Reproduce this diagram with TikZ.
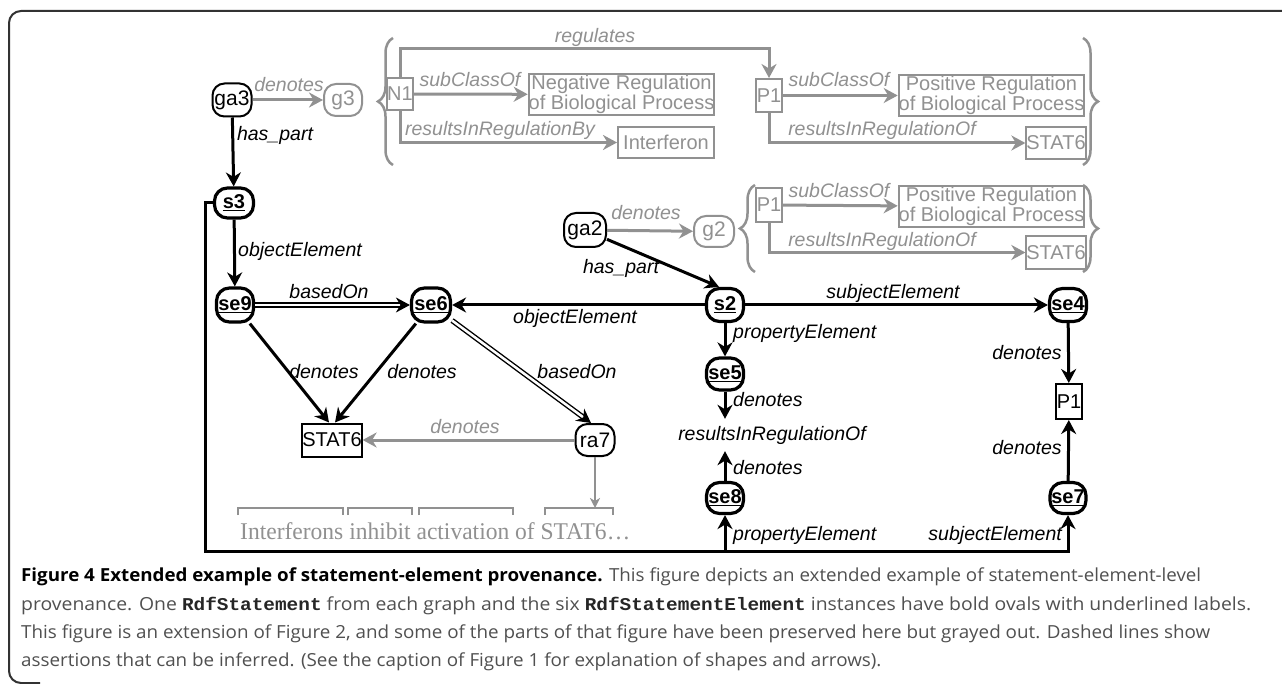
\documentclass[tikz,border=0pt]{standalone}
\usepackage{fontspec}
\setmainfont{Liberation Sans}
\newfontfamily\capfont{Open Sans}
\newfontfamily\capmono{Liberation Mono}
\newfontfamily\serifx{Liberation Serif}
\usetikzlibrary{arrows.meta,decorations.pathreplacing,calc}
\definecolor{gr}{RGB}{145,145,145}
\definecolor{capgray}{RGB}{80,80,80}
\definecolor{framec}{RGB}{50,50,50}
\newsavebox\fitbox
\newcommand\fitto[2]{\sbox\fitbox{#2}\scalebox{\fpeval{(#1)/(\wd\fitbox)}}[1]{\usebox\fitbox}}
\newcommand\capsize{\capfont\fontsize{18}{20}\selectfont}
\newcommand\capscale{1}
\tikzset{
  lbl/.style={font=\fontsize{19.5}{20}\selectfont\itshape, inner sep=0pt},
  glbl/.style={lbl, text=gr},
  boldnode/.style={draw, line width=3.2pt, rounded corners=13pt, inner sep=0pt, font=\fontsize{20}{20}\selectfont\bfseries},
  rnd/.style={draw, line width=2pt, rounded corners=12pt, inner sep=0pt, font=\fontsize{21}{20}\selectfont},
  grnd/.style={rnd, draw=gr, text=gr},
  bx/.style={draw, line width=2pt, inner sep=0pt, font=\fontsize{20}{20}\selectfont},
  gbx/.style={bx, draw=gr, text=gr},
  twoline/.style={align=center, font=\fontsize{20}{15}\selectfont, minimum width=185, minimum height=41},
  conn/.style={line width=3pt, -{Stealth[length=14pt,width=15pt,inset=4.5pt]}},
  gconn/.style={conn, draw=gr},
  dbl/.style={double, double distance=2.5pt, line width=1.4pt, -{Stealth[length=14pt,width=15pt,inset=4.5pt]}},
  brk/.style={draw=gr, line width=1.5pt},
  gbrace/.style={draw=gr, line width=2.5pt, decorate, decoration={brace, amplitude=15pt}},
  capline/.style={anchor=base west, inner sep=0pt},
}
\begin{document}
\begin{tikzpicture}[x=1pt,y=-1pt]
\useasboundingbox (0,0) rectangle (1282,684);
\fill[white] (0,0) rectangle (1282,684);
\draw[framec, line width=2pt, rounded corners=12pt] (1300,11) -- (9,11) -- (9,683) -- (40,683);

% ---- top group (g3)
\node[rnd, minimum width=39, minimum height=33] (ga3) at (232,100) {ga3};
\node[grnd, minimum width=38, minimum height=32] (g3) at (343,100) {g3};
\node[gbx, minimum width=25, minimum height=32] (N1) at (400,94) {N1};
\node[gbx, twoline] (neg) at (621.5,94.5) {Negative Regulation\\of Biological Process};
\node[gbx, minimum width=96, minimum height=31] (inter) at (666,142.5) {Interferon};
\node[gbx, minimum width=26, minimum height=33] (P1t) at (769,95.5) {P1};
\node[gbx, twoline] (pos1) at (991.5,95.5) {Positive Regulation\\of Biological Process};
\node[gbx, minimum width=56, minimum height=32] (stat6t) at (1056,143) {STAT6};

\draw[gbrace] (393,165) -- (393,38);
\draw[gbrace] (1083,38) -- (1083,165);

\draw[gconn] (ga3) -- (g3);
\draw[gconn] (N1.north) -- ++(0,-28) -| (P1t.north);
\draw[gconn] (N1) -- (neg);
\draw[gconn] (N1.south) |- (inter.west);
\draw[gconn] (P1t) -- (pos1);
\draw[gconn] (P1t.south) |- (stat6t.west);

\node[glbl] (l1) at (289,85) {denotes};
\node[glbl] (l2) at (595,37) {regulates};
\node[glbl] (l3) at (470,80) {subClassOf};
\node[glbl] (l4) at (500,130) {resultsInRegulationBy};
\node[glbl] (l5) at (839,80) {subClassOf};
\node[glbl] (l6) at (882,130) {resultsInRegulationOf};

% ---- second group (g2)
\node[rnd, minimum width=42, minimum height=34] (ga2) at (585,230) {ga2};
\node[grnd, minimum width=40, minimum height=31] (g2) at (714,231.5) {g2};
\node[gbx, minimum width=26, minimum height=34] (P1b) at (769,205) {P1};
\node[gbx, twoline] (pos2) at (991.5,206.5) {Positive Regulation\\of Biological Process};
\node[gbx, minimum width=56, minimum height=33] (stat6b) at (1056,252.5) {STAT6};

\draw[gbrace] (755,272) -- (755,185);
\draw[gbrace] (1083,185) -- (1083,272);

\draw[gconn] (ga2) -- (g2);
\draw[gconn] (P1b) -- (pos2);
\draw[gconn] (P1b.south) |- (stat6b.west);

\node[glbl] (l7) at (646,213) {denotes};
\node[glbl] (l8) at (839,191) {subClassOf};
\node[glbl] (l9) at (882,241) {resultsInRegulationOf};

% ---- main graph
\node[boldnode, minimum width=39, minimum height=30] (s3) at (234,203) {\underline{s3}};
\node[boldnode, minimum width=37, minimum height=34] (se9) at (235,305) {\underline{se9}};
\node[boldnode, minimum width=39, minimum height=34] (se6) at (431,305) {\underline{se6}};
\node[boldnode, minimum width=37, minimum height=33] (s2) at (725,305) {\underline{s2}};
\node[boldnode, minimum width=37, minimum height=33] (se4) at (1068,305) {\underline{se4}};
\node[boldnode, minimum width=37, minimum height=32] (se5) at (725,374) {\underline{se5}};
\node[boldnode, minimum width=37, minimum height=31] (se8) at (725,498) {\underline{se8}};
\node[boldnode, minimum width=36, minimum height=31] (se7) at (1068,498) {\underline{se7}};
\node[rnd, minimum width=39, minimum height=32] (ra7) at (595,440) {ra7};
\node[bx, minimum width=56, minimum height=33] (stat6) at (332,440) {STAT6};
\node[bx, minimum width=26, minimum height=35] (P1) at (1069,401.5) {P1};
\node[lbl, minimum height=32] (rio) at (772,435) {resultsInRegulationOf};

\draw[conn] (ga3) -- (s3);
\draw[conn] (ga2) -- ([xshift=-6pt]s2.north);
\draw[conn] (s3) -- (se9);
\draw[dbl] (se9) -- (se6);
\draw[conn] (s2) -- (se6);
\draw[conn] (s2) -- (se4);
\draw[conn] (s2) -- (se5);
\draw[conn] (se5) -- (se5 |- rio.north);
\draw[conn] (se8) -- (se8 |- rio.south);
\draw[conn] (se4) -- (P1);
\draw[conn] (se7) -- (P1);
\draw[conn] (se9) -- ([xshift=-3pt]stat6.north);
\draw[conn] (se6) -- ([xshift=3pt]stat6.north);
\draw[dbl] (se6) -- ([xshift=-4pt]ra7.north);
\draw[gconn] (ra7) -- (stat6);

\coordinate (bl) at (205,551);
\draw[conn] (s3.west) -| (bl) -| (se8.south);
\draw[conn] (se8.south |- bl) -| (se7.south);

\node[lbl] (m1) at (275,135) {has\_part};
\node[lbl] (m2) at (300,251) {objectElement};
\node[lbl] (m3) at (329,292) {basedOn};
\node[lbl] (m4) at (621,268) {has\_part};
\node[lbl] (m5) at (575,318) {objectElement};
\node[lbl] (m6) at (893,293) {subjectElement};
\node[lbl, anchor=west] (m7) at (733,333) {propertyElement};
\node[lbl, anchor=west] (m8) at (733,400) {denotes};
\node[lbl, anchor=west] (m9) at (733,468) {denotes};
\node[lbl] (m10) at (1027,353) {denotes};
\node[lbl] (m11) at (1027,448) {denotes};
\node[lbl] (m12) at (324,372) {denotes};
\node[lbl] (m13) at (422,372) {denotes};
\node[lbl] (m14) at (577,372) {basedOn};
\node[glbl] (m15) at (465,427) {denotes};
\node[lbl, anchor=west] (m16) at (733,535) {propertyElement};
\node[lbl, anchor=east] (m17) at (1062,535) {subjectElement};

% ---- text with brackets
\draw[brk] (238,515) -- (238,508) -- (343,508) -- (343,515);
\draw[brk] (348,515) -- (348,508) -- (412,508) -- (412,515);
\draw[brk] (419,515) -- (419,508) -- (513,508) -- (513,515);
\draw[brk] (545,515) -- (545,508) -- (613,508) -- (613,515);
\coordinate (b4) at (579,508);
\draw[draw=gr, line width=2pt, -{Stealth[length=10pt,width=10pt,inset=3pt]}] (ra7) -- (ra7 |- b4);
\node[capline, text=gr] (sent) at (240,539) {\fitto{390pt}{\serifx\fontsize{24}{26}\selectfont Interferons inhibit activation of STAT6…}};

% ---- caption
\node[capline] (c1) at (21,581) {\fitto{1180pt}{\capsize{\bfseries Figure 4 Extended example of statement-element provenance.} \color{capgray}This figure depicts an extended example of statement-element-level}};
\node[capline] (c2) at (21,610) {\fitto{1230pt}{\capsize\color{capgray}provenance. One {\color{black!85}\capmono\bfseries RdfStatement} from each graph and the six {\color{black!85}\capmono\bfseries RdfStatementElement} instances have bold ovals with underlined labels.}};
\node[capline] (c3) at (21,638) {\sbox\fitbox{\capsize\color{capgray}This figure is an extension of Figure 2, and some of the parts of that figure have been preserved here but grayed out. Dashed lines show}\xdef\capscale{\fpeval{1189pt/\wd\fitbox}}\scalebox{\capscale}[1]{\usebox\fitbox}};
\node[capline] (c4) at (21,666) {\scalebox{\capscale}[1]{\capsize\color{capgray}assertions that can be inferred. (See the caption of Figure 1 for explanation of shapes and arrows).}};
\end{tikzpicture}
\end{document}
